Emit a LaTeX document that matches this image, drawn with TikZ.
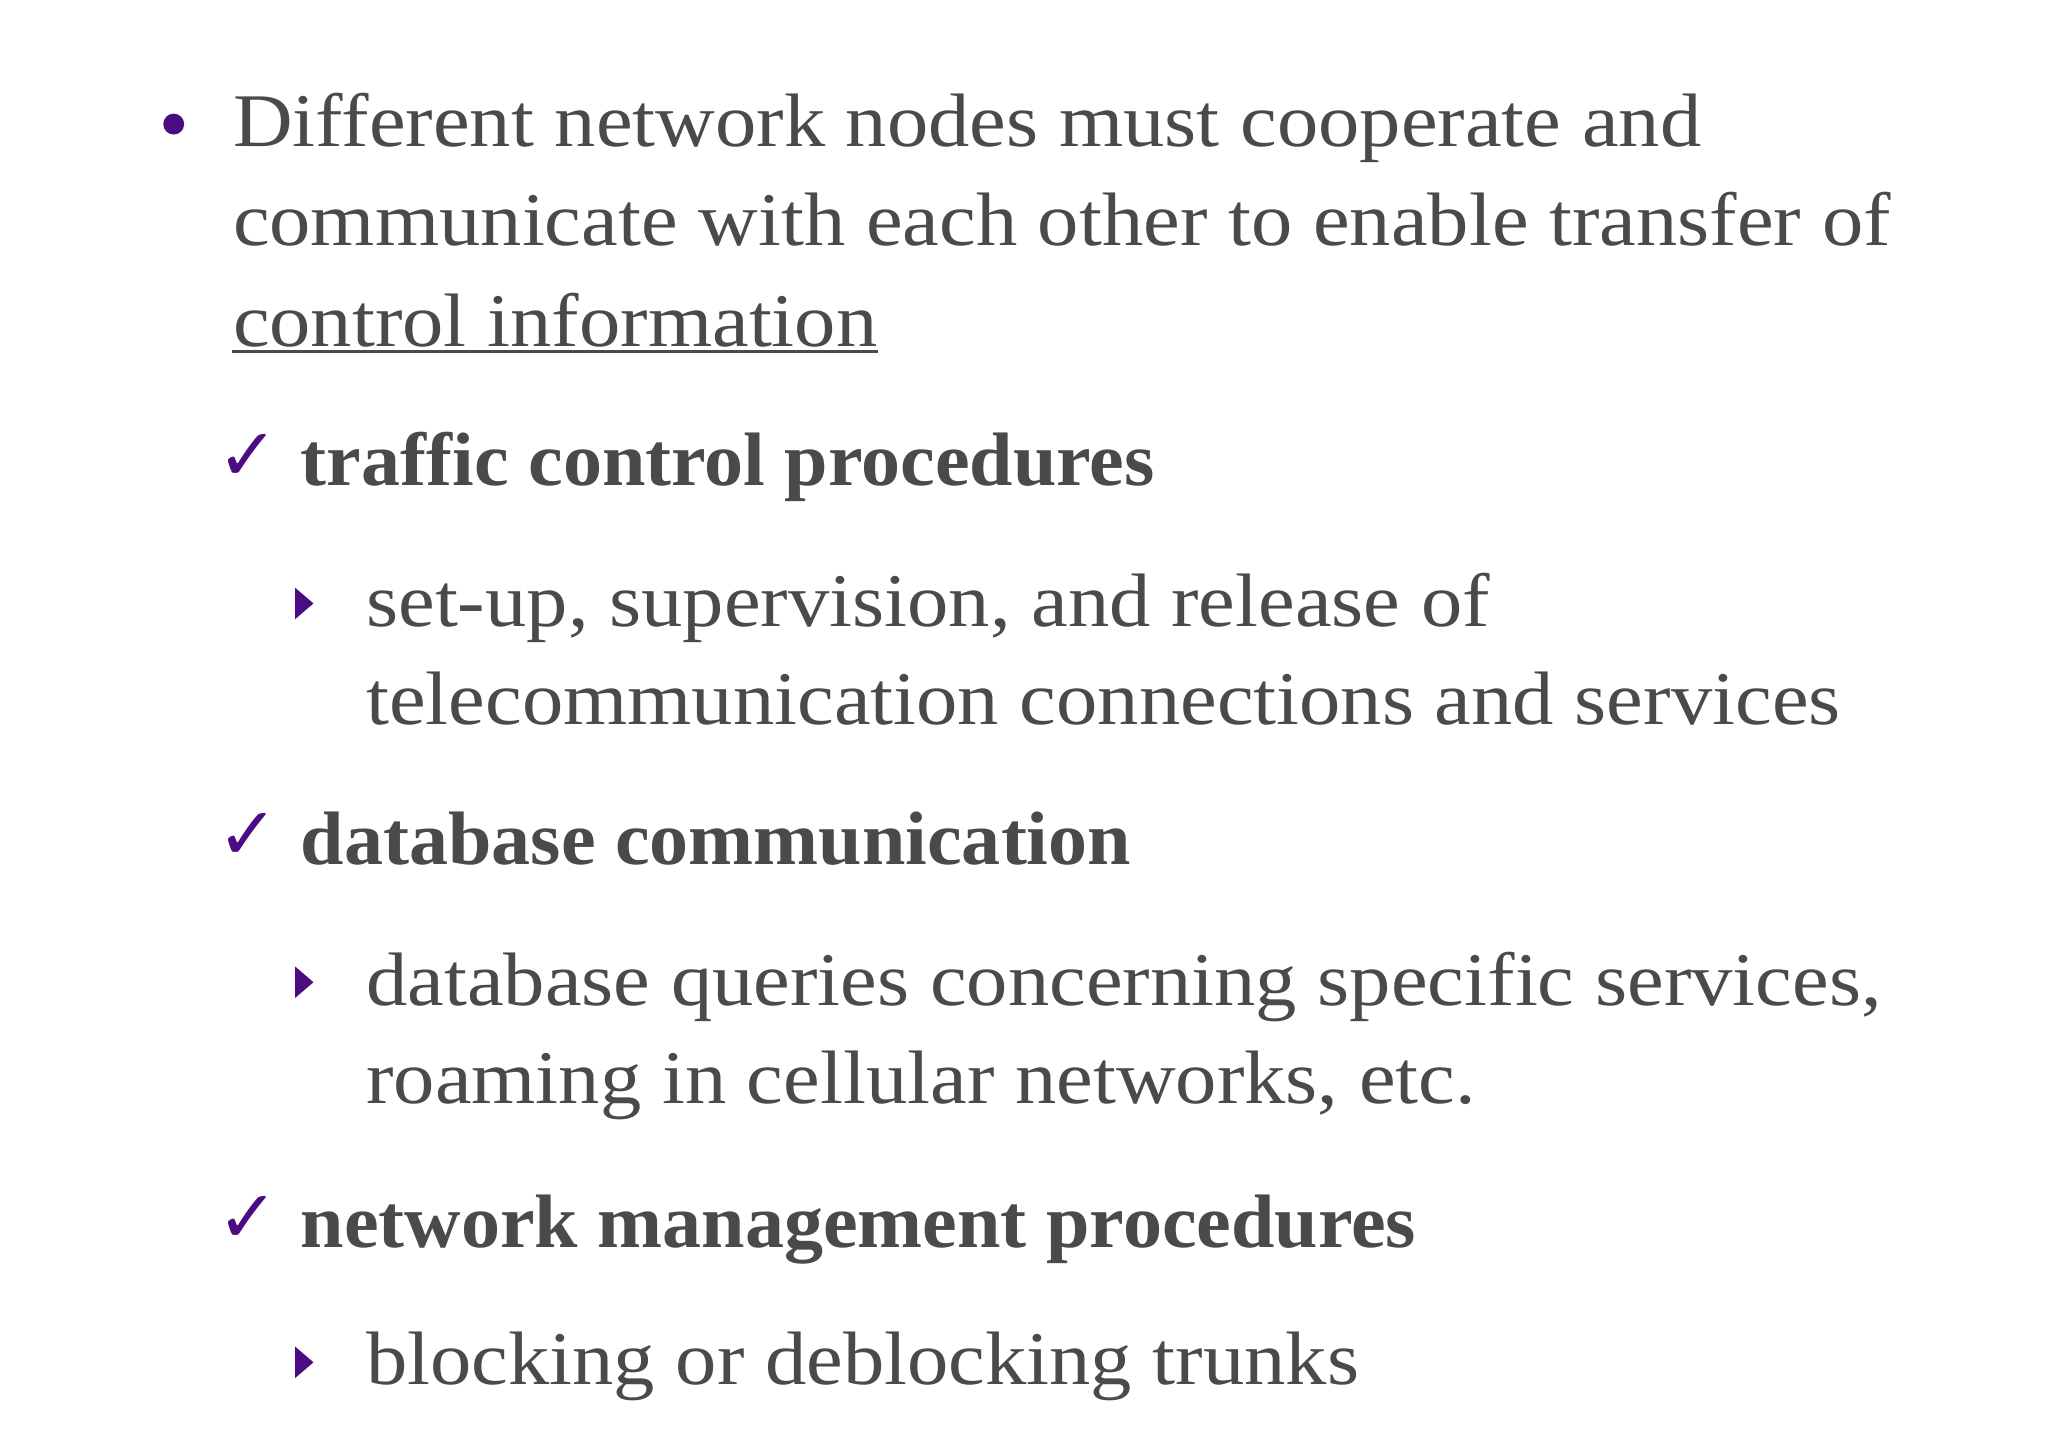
\documentclass[tikz,border=0pt]{standalone}
\usepackage{fontspec}
\setmainfont{Liberation Serif}
\newfontfamily\regf[FakeStretch=1.09]{Liberation Serif}
\newfontfamily\bldf[FakeStretch=1.03]{Liberation Serif Bold}
\newfontfamily\symf{DejaVu Sans}
\definecolor{tx}{HTML}{4A4A4A}
\definecolor{pu}{HTML}{4B0C82}
\begin{document}
\begin{tikzpicture}[x=0.5pt,y=-0.5pt,
  txt/.style={anchor=base west,inner sep=0pt,text=tx,font=\regf\fontsize{29}{35}\selectfont},
  bld/.style={txt,font=\bldf\fontsize{29}{35}\selectfont},
  chk/.style={anchor=base,inner sep=0pt,text=pu,font=\symf\fontsize{28}{32}\selectfont\bfseries}]
\useasboundingbox (0,0) rectangle (1568,1109);
\fill[pu] (133,95) circle (8);
\node[txt] (l1) at (178,112) {Different network nodes must cooperate and};
\node[txt] (l2) at (178,188) {communicate with each other to enable transfer of};
\node[txt] (l3) at (178,265) {control information};
\draw[tx,line width=1.2pt] (l3.south west)++(0,3) -- ([yshift=-1.5pt]l3.south east);
\node[chk] (c1) at (190,368) {✓};
\node[bld] (b1) at (230,372) {traffic control procedures};
\fill[pu] (226,450) -- (240,462) -- (226,474) -- cycle;
\node[txt] (s1) at (280,480) {set-up, supervision, and release of};
\node[txt] (s2) at (280,555) {telecommunication connections and services};
\node[chk] (c2) at (190,658) {✓};
\node[bld] (b2) at (230,662) {database communication};
\fill[pu] (226,740) -- (240,752) -- (226,764) -- cycle;
\node[txt] (s3) at (280,770) {database queries concerning specific services,};
\node[txt] (s4) at (280,845) {roaming in cellular networks, etc.};
\node[chk] (c3) at (190,951) {✓};
\node[bld] (b3) at (230,955) {network management procedures};
\fill[pu] (226,1031) -- (240,1043) -- (226,1055) -- cycle;
\node[txt] (s5) at (280,1060) {blocking or deblocking trunks};
\end{tikzpicture}
\end{document}
